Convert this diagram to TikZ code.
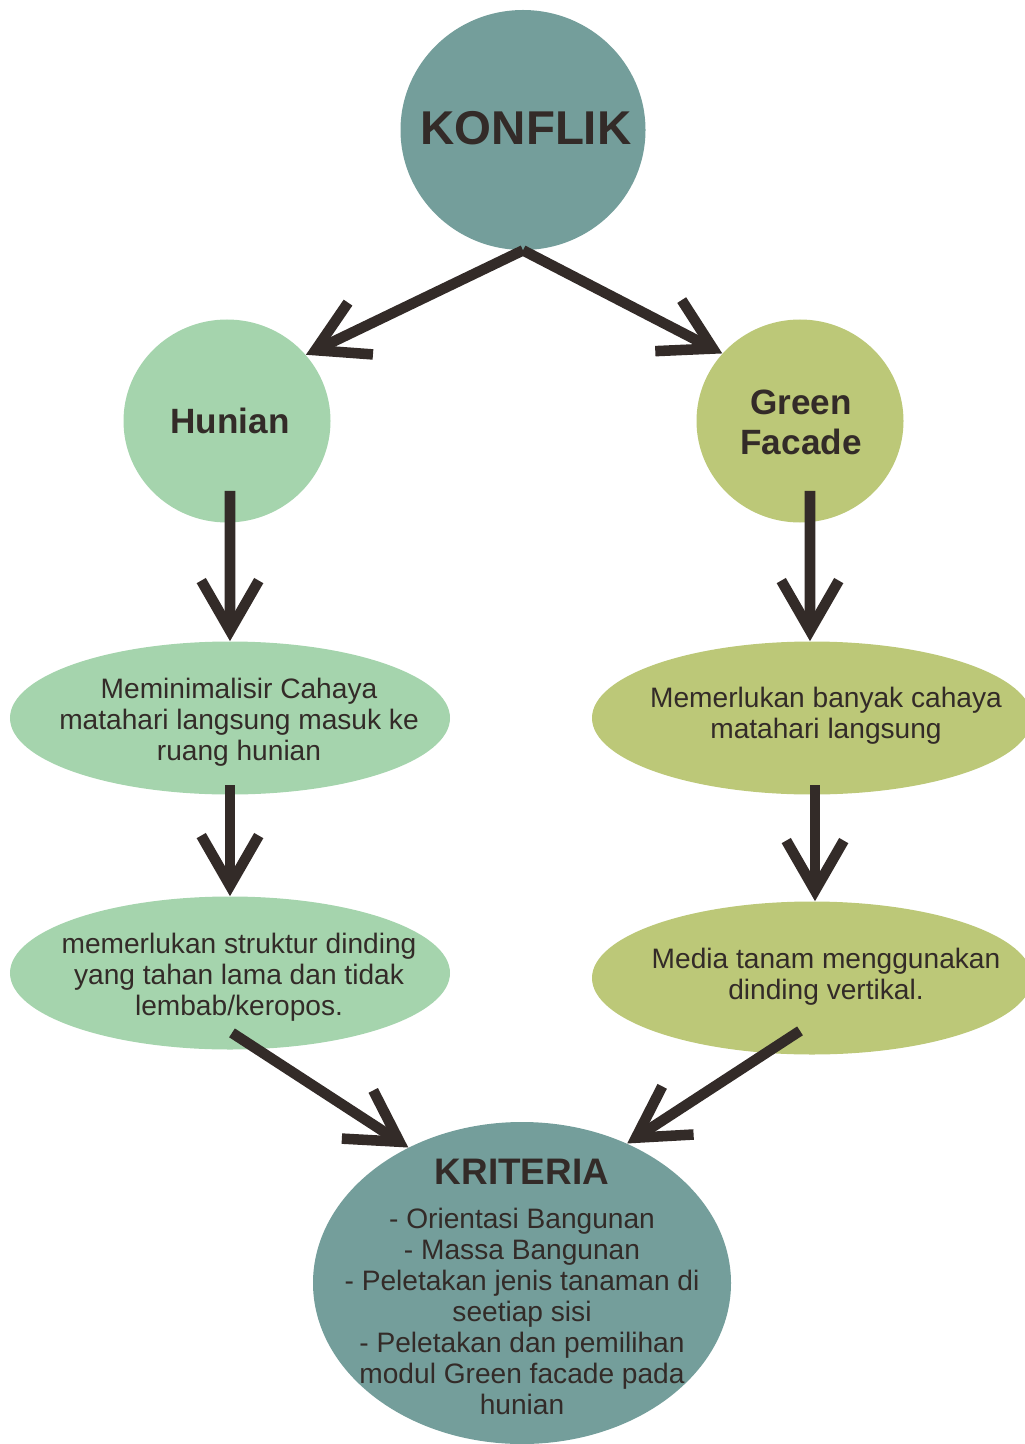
\documentclass[tikz,border=0pt]{standalone}
\usepackage{fontspec}
\setmainfont{Liberation Sans}
\usetikzlibrary{shapes.geometric,arrows.meta}
\definecolor{tinta}{HTML}{332B28}
\definecolor{hijaubiru}{HTML}{749E9B}
\definecolor{hijaumuda}{HTML}{A5D4AD}
\definecolor{zaitun}{HTML}{BCC878}
\tikzset{
  bubble/.style = {shape=ellipse, inner sep=0pt},
  root/.style   = {bubble, fill=hijaubiru, minimum width=49mm, minimum height=48mm},
  topic/.style  = {bubble, minimum width=41.4mm, minimum height=40.6mm},
  oval/.style   = {bubble, minimum width=88mm, minimum height=30.6mm},
  txt/.style    = {align=center, inner sep=0pt, text=tinta,
                   font=\fontsize{16}{17.6}\selectfont},
  judul/.style  = {txt, font=\fontsize{20}{22.7}\selectfont\bfseries},
  panah/.style  = {draw=tinta, line width=6pt,
                   -{Straight Barb[length=10mm, width=11.5mm]}}
}

\begin{document}
\begin{tikzpicture}[x=0.2mm, y=-0.2mm]
  \useasboundingbox (0,0) rectangle (1025,1444);

  % shapes
  \node [root] (konflik) at (523,130) {};
  \node [topic, fill=hijaumuda] (hunian) at (227,421) {};
  \node [topic, fill=zaitun] (green) at (800,421) {};
  \node [oval, fill=hijaumuda] (minim) at (230,718) {};
  \node [oval, fill=zaitun] (cahaya) at (812,718) {};
  \node [oval, fill=hijaumuda] (struktur) at (230,973) {};
  \node [oval, fill=zaitun] (media) at (812,978) {};
  \node [bubble, fill=hijaubiru, minimum width=83.6mm, minimum height=64.4mm]
    (kriteria) at (522,1283) {};

  % texts
  \node [txt, font=\fontsize{27}{30}\selectfont\bfseries] (konflikT) at (526,128.5) {KONFLIK};
  \node [judul] (hunianT) at (230,421) {Hunian};
  \node [judul] (greenT) at (801,422) {Green\\Facade};
  \node [txt] (minimT) at (239,722)
    {Meminimalisir Cahaya\\matahari langsung masuk ke\\ruang hunian};
  \node [txt] (cahayaT) at (826,716)
    {Memerlukan banyak cahaya\\matahari langsung};
  \node [txt] (strukturT) at (239,977)
    {memerlukan struktur dinding\\yang tahan lama dan tidak\\lembab/keropos.};
  \node [txt] (mediaT) at (826,977)
    {Media tanam menggunakan\\dinding vertikal.};
  \node [txt] (kriteriaT) at (522,1287)
    {{\fontsize{21}{25}\selectfont\bfseries KRITERIA}\\[7.4pt]
     - Orientasi Bangunan\\- Massa Bangunan\\- Peletakan jenis tanaman di\\seetiap sisi\\
     - Peletakan dan pemilihan\\modul Green facade pada\\hunian};

  % arrows
  \draw [panah] (konflik.south) -- (hunian.40);
  \draw [panah] (konflik.south) -- (green.139);
  \draw [panah] ([xshift=0.6mm, yshift=6.4mm]hunian.south) -- (minim.north);
  \draw [panah] ([xshift=2mm, yshift=6.4mm]green.south) -- ([xshift=-0.4mm]cahaya.north);
  \draw [panah] ([yshift=1.9mm]minim.south) -- (struktur.north);
  \draw [panah] ([xshift=0.6mm, yshift=1.9mm]cahaya.south) -- ([xshift=0.6mm]media.north);
  \draw [panah] ([xshift=0.4mm, yshift=3.4mm]struktur.south) -- (kriteria.130);
  \draw [panah] ([xshift=-2.4mm, yshift=4.8mm]media.south) -- (kriteria.53);
\end{tikzpicture}
\end{document}
